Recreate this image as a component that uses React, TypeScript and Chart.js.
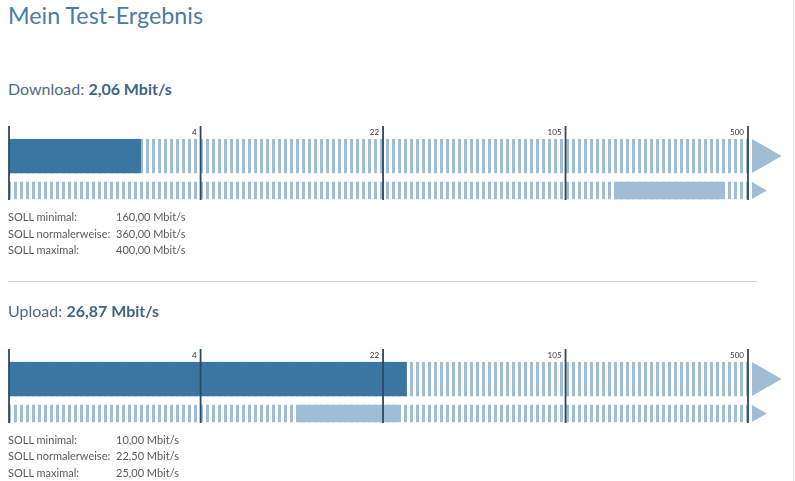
import React, { useEffect, useRef } from 'react';
import { Chart, registerables } from 'chart.js';

Chart.register(...registerables);

// ---- data ----
const TITLE = 'Mein Test-Ergebnis';
const TICK_VALUES = [4, 22, 105, 500];
const SCALE_START = 0.53; // value where the first (log) segment begins
const ROW_LABELS = ['Messung', 'SOLL'];
const SOLL_LABELS = ['SOLL minimal:', 'SOLL normalerweise:', 'SOLL maximal:'];

const DOWNLOAD_NAME = 'Download';
const DOWNLOAD_VALUE = 2.06;
const DOWNLOAD_SOLL = [160, 360, 400]; // minimal, normalerweise, maximal

const UPLOAD_NAME = 'Upload';
const UPLOAD_VALUE = 26.87;
const UPLOAD_SOLL = [10, 22.5, 25];

// ---- style ----
const FONT = 'Lato, "Open Sans", sans-serif';
const DARK = '#3b76a3';
const LIGHT = '#9fbdd5';
const LINE = '#2a4a62';
const AXIS_MIN = -0.05; // small lead-in before the first segment

if (typeof document !== 'undefined') {
  document.body.style.margin = '0';
}

const BREAKS = [SCALE_START, ...TICK_VALUES];
// piecewise logarithmic mapping of a value onto segment units (0..4)
function toPos(v: number): number {
  if (v <= BREAKS[0]) return AXIS_MIN;
  for (let i = 0; i < BREAKS.length - 1; i++) {
    const a = BREAKS[i];
    const b = BREAKS[i + 1];
    if (v <= b) return i + (Math.log(v) - Math.log(a)) / (Math.log(b) - Math.log(a));
  }
  return BREAKS.length - 1;
}
const MAX_POS = BREAKS.length - 1;

const fmt = (v: number) => v.toFixed(2).replace('.', ',') + ' Mbit/s';

function makePattern(ctx: CanvasRenderingContext2D) {
  const c = document.createElement('canvas');
  c.width = 6;
  c.height = 4;
  const g = c.getContext('2d')!;
  g.fillStyle = '#ffffff';
  g.fillRect(0, 0, 6, 4);
  g.fillStyle = LIGHT;
  g.fillRect(0, 0, 3, 4);
  return ctx.createPattern(c, 'repeat')!;
}

const overlayPlugin = {
  id: 'speedOverlay',
  afterDatasetsDraw(chart: any) {
    const ctx = chart.ctx as CanvasRenderingContext2D;
    const xs = chart.scales.x;
    const topEl = chart.getDatasetMeta(0).data[0];
    const botEl = chart.getDatasetMeta(1).data[1];
    if (!topEl || !botEl) return;
    const top = topEl.getProps(['y', 'height'], true);
    const bot = botEl.getProps(['y', 'height'], true);
    const y0 = top.y - top.height / 2 - 13;
    const y1 = bot.y + bot.height / 2 + 1;
    ctx.save();
    // arrows
    const xEnd = xs.getPixelForValue(MAX_POS) + 4;
    ctx.fillStyle = LIGHT;
    [top, bot].forEach((b: any) => {
      ctx.beginPath();
      ctx.moveTo(xEnd, b.y - b.height / 2);
      ctx.lineTo(xEnd + b.height * 0.87, b.y);
      ctx.lineTo(xEnd, b.y + b.height / 2);
      ctx.closePath();
      ctx.fill();
    });
    // scale lines + labels
    ctx.strokeStyle = LINE;
    ctx.lineWidth = 1.8;
    const positions = [AXIS_MIN, ...TICK_VALUES.map(toPos)];
    positions.forEach((p, i) => {
      const x = xs.getPixelForValue(p);
      ctx.beginPath();
      ctx.moveTo(x, y0);
      ctx.lineTo(x, y1);
      ctx.stroke();
      if (i > 0) {
        ctx.fillStyle = '#333';
        ctx.font = '8px ' + FONT;
        ctx.textAlign = 'right';
        ctx.textBaseline = 'top';
        ctx.fillText(String(TICK_VALUES[i - 1]), x - 4, y0 + 2);
      }
    });
    ctx.restore();
  },
};

function SpeedChart({ value, soll }: { value: number; soll: number[] }) {
  const ref = useRef<HTMLCanvasElement>(null);
  useEffect(() => {
    const canvas = ref.current!;
    const ctx = canvas.getContext('2d')!;
    const pattern = makePattern(ctx);
    const chart = new Chart(canvas, {
      type: 'bar',
      data: {
        labels: ROW_LABELS,
        datasets: [
          { data: [[AXIS_MIN, MAX_POS], null] as any, backgroundColor: pattern, barThickness: 34, grouped: false, order: 3 },
          { data: [null, [AXIS_MIN, MAX_POS]] as any, backgroundColor: pattern, barThickness: 17, grouped: false, order: 3 },
          { data: [[AXIS_MIN, toPos(value)], null] as any, backgroundColor: DARK, barThickness: 34, grouped: false, order: 1 },
          { data: [null, [toPos(soll[0]), toPos(soll[2])]] as any, backgroundColor: LIGHT, barThickness: 17, grouped: false, order: 1 },
        ],
      },
      options: {
        indexAxis: 'y',
        animation: false,
        responsive: false,
        events: [],
        layout: { padding: { left: 1, right: 39, top: 18.75, bottom: 2.25 } },
        scales: {
          x: { type: 'linear', min: AXIS_MIN, max: MAX_POS, display: false },
          y: { type: 'category', display: false, offset: true },
        },
        plugins: { legend: { display: false }, tooltip: { enabled: false } },
      } as any,
      plugins: [overlayPlugin],
    });
    return () => chart.destroy();
  }, [value, soll]);
  return <canvas ref={ref} width={779} height={90} style={{ display: 'block', width: 779, height: 90 }} />;
}

function Section({ name, value, soll, offset }: { name: string; value: number; soll: number[]; offset: number }) {
  return (
    <>
      <div style={{ position: 'absolute', left: 8, top: 78.7 + offset, fontSize: 16, lineHeight: 1.2, color: '#4e6b80', whiteSpace: 'nowrap' }}>
        {name}: <b style={{ color: '#3d6684' }}>{fmt(value)}</b>
      </div>
      <div style={{ position: 'absolute', left: 8, top: 120 + offset }}>
        <SpeedChart value={value} soll={soll} />
      </div>
      <div style={{ position: 'absolute', left: 8, top: 209.2 + offset, fontSize: 11, lineHeight: '16.4px', color: '#5a5a5a' }}>
        {SOLL_LABELS.map((l, i) => (
          <div key={l} style={{ position: 'relative', whiteSpace: 'nowrap' }}>
            <span>{l}</span>
            <span style={{ position: 'absolute', left: 108 }}>{fmt(soll[i])}</span>
          </div>
        ))}
      </div>
    </>
  );
}

export default function App() {
  useEffect(() => {
    document.body.style.margin = '0';
  }, []);
  return (
    <div style={{ position: 'relative', width: 795, height: 481, overflow: 'hidden', fontFamily: FONT, background: '#fff' }}>
      <div style={{ position: 'absolute', left: 8, top: 1.5, fontSize: 23.3, lineHeight: 1.2, color: '#4b7da2', whiteSpace: 'nowrap' }}>{TITLE}</div>
      <Section name={DOWNLOAD_NAME} value={DOWNLOAD_VALUE} soll={DOWNLOAD_SOLL} offset={0} />
      <div style={{ position: 'absolute', left: 8, top: 280.5, width: 749, height: 1.5, background: '#d2d2d2' }} />
      <Section name={UPLOAD_NAME} value={UPLOAD_VALUE} soll={UPLOAD_SOLL} offset={222.5} />
      <div style={{ position: 'absolute', left: 793, top: 0, width: 1, height: 481, background: '#e2e2e2' }} />
    </div>
  );
}
